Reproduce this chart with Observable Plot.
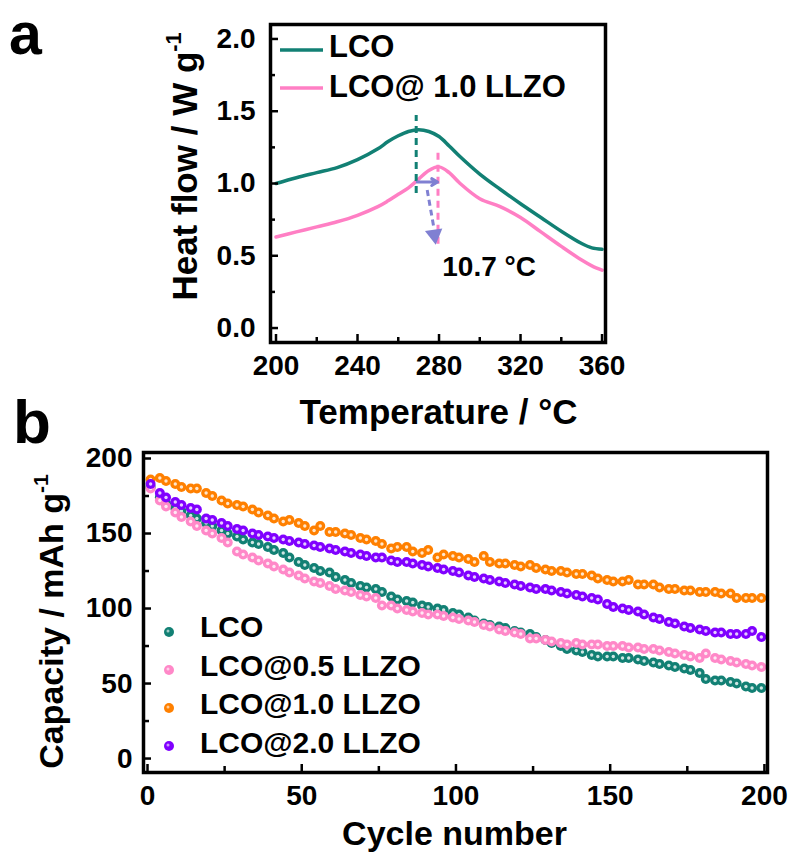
<!DOCTYPE html>
<html><head><meta charset="utf-8">
<script src="https://cdn.jsdelivr.net/npm/d3@7"></script>
<script src="https://cdn.jsdelivr.net/npm/@observablehq/plot@0.6"></script>
<style>
html,body{margin:0;padding:0;background:#fff;}
#root{position:relative;width:792px;height:866px;overflow:hidden;background:#fff;font-family:'Liberation Sans',Arial,Helvetica,sans-serif;font-weight:bold;}
#pa,#pb,#ov{position:absolute;left:0;}
#pa{top:0}#pb{top:440px}#ov{top:0;pointer-events:none}
</style></head><body>
<div id="root"><div id="pa"></div><div id="pb"></div><svg id="ov" width="792" height="866"></svg></div>
<script>
const FONT = "'Liberation Sans', Arial, Helvetica, sans-serif";

// ---------- Panel a: DSC ----------
const dscTemp = [200,210,220,230,240,250,255,260,265,270,275,280,285,290,300,310,320,330,340,350,355,360];
const dscLCO  = [1.00,1.04,1.075,1.11,1.165,1.24,1.29,1.33,1.36,1.372,1.36,1.325,1.26,1.19,1.065,0.96,0.86,0.765,0.67,0.585,0.555,0.545];
const dscLLZO = [0.63,0.665,0.70,0.735,0.78,0.84,0.88,0.925,0.97,1.03,1.09,1.115,1.075,1.005,0.895,0.84,0.765,0.665,0.565,0.47,0.43,0.40];
const dscNames = ["LCO", "LCO@ 1.0 LLZO"];
const dscColors = ["#128074", "#ff7fc4"];
const peakTemp = [268.8, 279.5];
const peakTop = [1.47, 1.21];
const peakBottom = [0.93, 0.58];
const shiftArrow = [269.3, 279.3, 1.01];          // x1, x2, y
const shiftPointer = [274.2, 0.955, 277.4, 0.70];  // x1, y1, x2, y2
const shiftHead = [277.7, 0.645];
const shiftLabel = "10.7 °C";
const shiftLabelPos = [281.6, 0.42];
const aXMajor = [200, 240, 280, 320, 360];
const aXMinor = [220, 260, 300, 340];
const aYMajor = [0, 0.5, 1.0, 1.5, 2.0];
const aYMinor = [0.25, 0.75, 1.25, 1.75];

// ---------- Panel b: cycling ----------
const cycles = Array.from({length: 80}, (_, i) => 1 + Math.round(i * 2.5));
const capLCO = [181,174,170,167,165,162,160,157,155,152,
  150,148,146,144,143,141,139,137,134,131,
  129,127,125,124,121,119,117,115,114,113,
  111,108,106,105,104,102,101,100,99,97,
  96,94,92,90,89,88,87,85,84,83,
  81,79,77,75,73,72,71,69,68,68,
  68,67,67,66,65,64,63,62,61,60,
  59,57,53,52,52,51,50,48,47,47];
const capLLZO05 = [180,172,168,164,161,158,155,152,150,147,
  144,138,136,134,132,130,128,126,124,122,
  120,118,117,115,113,112,111,109,108,107,
  102,102,100,99,98,97,96,96,95,94,
  93,92,91,89,88,86,85,84,83,80,
  80,79,78,77,76,77,76,76,76,75,
  75,75,74,74,73,73,72,71,70,69,
  68,67,70,67,66,65,64,63,62,61];
const capLLZO10 = [186,187,185,183,181,180,180,177,175,172,
  170,169,168,166,164,162,160,158,159,157,
  155,152,155,151,151,150,149,147,146,145,
  143,140,141,141,138,137,139,134,136,135,
  134,133,131,135,131,130,130,129,128,129,
  127,126,125,125,124,123,123,122,120,119,
  118,118,119,116,116,116,114,113,113,112,
  112,111,111,111,110,110,107,107,107,107];
const capLLZO20 = [183,177,174,171,169,167,166,160,159,157,
  155,153,152,150,149,148,147,146,145,144,
  143,142,141,140,139,138,137,136,135,134,
  134,132,131,131,130,129,128,127,126,125,
  124,122,121,120,119,118,117,116,115,114,
  113,113,112,111,110,109,108,107,106,103,
  101,100,99,98,96,94,93,91,90,88,
  87,86,85,84,84,83,83,83,85,81];
const capNames = ["LCO", "LCO@0.5 LLZO", "LCO@1.0 LLZO", "LCO@2.0 LLZO"];
const capColors = ["#128074", "#ff88c8", "#ff8000", "#8000ff"];
const capSeries = [capLCO, capLLZO05, capLLZO10, capLLZO20];
const bXMajor = [0, 50, 100, 150, 200];
const bXMinor = [25, 75, 125, 175];
const bYMajor = [0, 50, 100, 150, 200];
const bYMinor = [25, 75, 125, 175];

const ARROW = "#8080d2";
const baseStyle = {fontFamily: FONT, fontSize: "28px", fontWeight: "bold", color: "black", background: "transparent", overflow: "visible"};

function addSup(svg, base, sup) {
  for (const t of svg.querySelectorAll("text")) {
    if (t.textContent === base) {
      const s = document.createElementNS("http://www.w3.org/2000/svg", "tspan");
      s.setAttribute("dy", "-0.72em");
      s.setAttribute("font-size", "0.62em");
      s.textContent = sup;
      t.appendChild(s);
    }
  }
}

// ----- build panel a -----
{
  const W = 640, H = 440, mL = 270, mR = 35, mT = 24, mB = 98;
  const iw = W - mL - mR, ih = H - mT - mB;
  const data = dscTemp.flatMap((t, i) => [
    {T: t, v: dscLCO[i], s: dscNames[0]},
    {T: t, v: dscLLZO[i], s: dscNames[1]}
  ]);
  const idx = [0, 1];
  const chart = Plot.plot({
    width: W, height: H, marginLeft: mL, marginRight: mR, marginTop: mT, marginBottom: mB,
    style: baseStyle,
    x: {domain: [197.3, 361.7]},
    y: {domain: [-0.1, 2.1]},
    color: {domain: dscNames, range: dscColors},
    marks: [
      Plot.line(data, {x: "T", y: "v", z: "s", stroke: "s", strokeWidth: 3.5, curve: "catmull-rom"}),
      Plot.ruleX(idx, {x: i => peakTemp[i], y1: i => peakBottom[i], y2: i => peakTop[i], stroke: i => dscNames[i], strokeWidth: 3, strokeDasharray: "7,5"}),
      Plot.arrow([0], {x1: () => shiftArrow[0], x2: () => shiftArrow[1], y1: () => shiftArrow[2], y2: () => shiftArrow[2], stroke: ARROW, strokeWidth: 3, headLength: 9}),
      Plot.link([0], {x1: () => shiftPointer[0], y1: () => shiftPointer[1], x2: () => shiftPointer[2], y2: () => shiftPointer[3], stroke: ARROW, strokeWidth: 3, strokeDasharray: "6,4"}),
      Plot.dot([0], {x: () => shiftHead[0], y: () => shiftHead[1], symbol: "triangle", r: 6.5, fill: ARROW, rotate: 172}),
      Plot.text([0], {x: () => shiftLabelPos[0], y: () => shiftLabelPos[1], text: () => shiftLabel, textAnchor: "start", lineAnchor: "middle", fontSize: 28}),
      Plot.frame({stroke: "black", strokeWidth: 3.5}),
      Plot.tickX(aXMajor, {x: d => d, insetTop: ih - 8, strokeWidth: 2.5}),
      Plot.tickX(aXMinor, {x: d => d, insetTop: ih - 5, strokeWidth: 2.5}),
      Plot.tickY(aYMajor, {y: d => d, insetRight: iw - 8, strokeWidth: 2.5}),
      Plot.tickY(aYMinor, {y: d => d, insetRight: iw - 5, strokeWidth: 2.5}),
      Plot.axisX({ticks: aXMajor, tickSize: 0, tickPadding: 13, label: null, tickFormat: d => String(d)}),
      Plot.axisY({ticks: aYMajor, tickSize: 0, tickPadding: 15, label: null, tickFormat: d3.format(".1f")}),
      Plot.text(["Temperature / °C"], {frameAnchor: "bottom", dy: 70, dx: 0.5, lineAnchor: "middle", fontSize: 35}),
      Plot.text(["Heat flow / W g"], {frameAnchor: "left", rotate: -90, dx: -85, dy: -17, textAnchor: "middle", lineAnchor: "middle", fontSize: 35})
    ]
  });
  addSup(chart, "Heat flow / W g", "-1");
  document.getElementById("pa").appendChild(chart);
}

// ----- build panel b -----
{
  const W = 792, H = 426, mL = 143, mR = 25, mT = 12, mB = 94;
  const iw = W - mL - mR, ih = H - mT - mB;
  const dotMarks = capSeries.flatMap((vals, k) => {
    const d = vals.map((v, i) => ({c: cycles[i], v}));
    return [
      Plot.dot(d, {x: "c", y: "v", r: 5, fill: capColors[k]}),
      Plot.dot(d, {x: "c", y: "v", r: 1.7, fill: "#ffffff", fillOpacity: 0.8})
    ];
  });
  const chart = Plot.plot({
    width: W, height: H, marginLeft: mL, marginRight: mR, marginTop: mT, marginBottom: mB,
    style: baseStyle,
    x: {domain: [-1.3, 201]},
    y: {domain: [-9.3, 204]},
    marks: [
      ...dotMarks,
      Plot.frame({stroke: "black", strokeWidth: 3.5}),
      Plot.tickX(bXMajor, {x: d => d, insetTop: ih - 8, strokeWidth: 2.5}),
      Plot.tickX(bXMinor, {x: d => d, insetTop: ih - 6, strokeWidth: 2.5}),
      Plot.tickY(bYMajor, {y: d => d, insetRight: iw - 8, strokeWidth: 2.5}),
      Plot.tickY(bYMinor, {y: d => d, insetRight: iw - 6, strokeWidth: 2.5}),
      Plot.axisX({ticks: bXMajor, tickSize: 0, tickPadding: 13, label: null, tickFormat: d => String(d)}),
      Plot.axisY({ticks: bYMajor, tickSize: 0, tickPadding: 11, label: null, tickFormat: d => String(d)}),
      Plot.text(["Cycle number"], {frameAnchor: "bottom", dy: 62, dx: -1, lineAnchor: "middle", fontSize: 34}),
      Plot.text(["Capacity / mAh g"], {frameAnchor: "left", rotate: -90, dx: -91, dy: 9, textAnchor: "middle", lineAnchor: "middle", fontSize: 34})
    ]
  });
  addSup(chart, "Capacity / mAh g", "-1");
  document.getElementById("pb").appendChild(chart);
}

// ----- overlay: panel letters and legends -----
{
  const ov = d3.select("#ov").attr("font-family", FONT).attr("font-weight", "bold");
  ov.append("text").attr("x", 9).attr("y", 54).attr("font-size", 59).text("a");
  ov.append("text").attr("x", 13).attr("y", 443).attr("font-size", 62).text("b");
  // legend a
  dscNames.forEach((n, i) => {
    const yl = 50 + 38 * i;
    ov.append("line").attr("x1", 280).attr("x2", 323).attr("y1", yl).attr("y2", yl)
      .attr("stroke", dscColors[i]).attr("stroke-width", 3.5);
    ov.append("text").attr("x", 329).attr("y", 57 + 40 * i).attr("font-size", 31).text(n);
  });
  // legend b
  capNames.forEach((n, i) => {
    const cy = 632 + 38 * i;
    ov.append("circle").attr("cx", 169).attr("cy", cy).attr("r", 5).attr("fill", capColors[i]);
    ov.append("circle").attr("cx", 168).attr("cy", cy - 1).attr("r", 1.5).attr("fill", "#fff").attr("fill-opacity", 0.6);
    ov.append("text").attr("x", 200).attr("y", 637 + 38.5 * i).attr("font-size", 30).text(n);
  });
}
</script></body></html>
